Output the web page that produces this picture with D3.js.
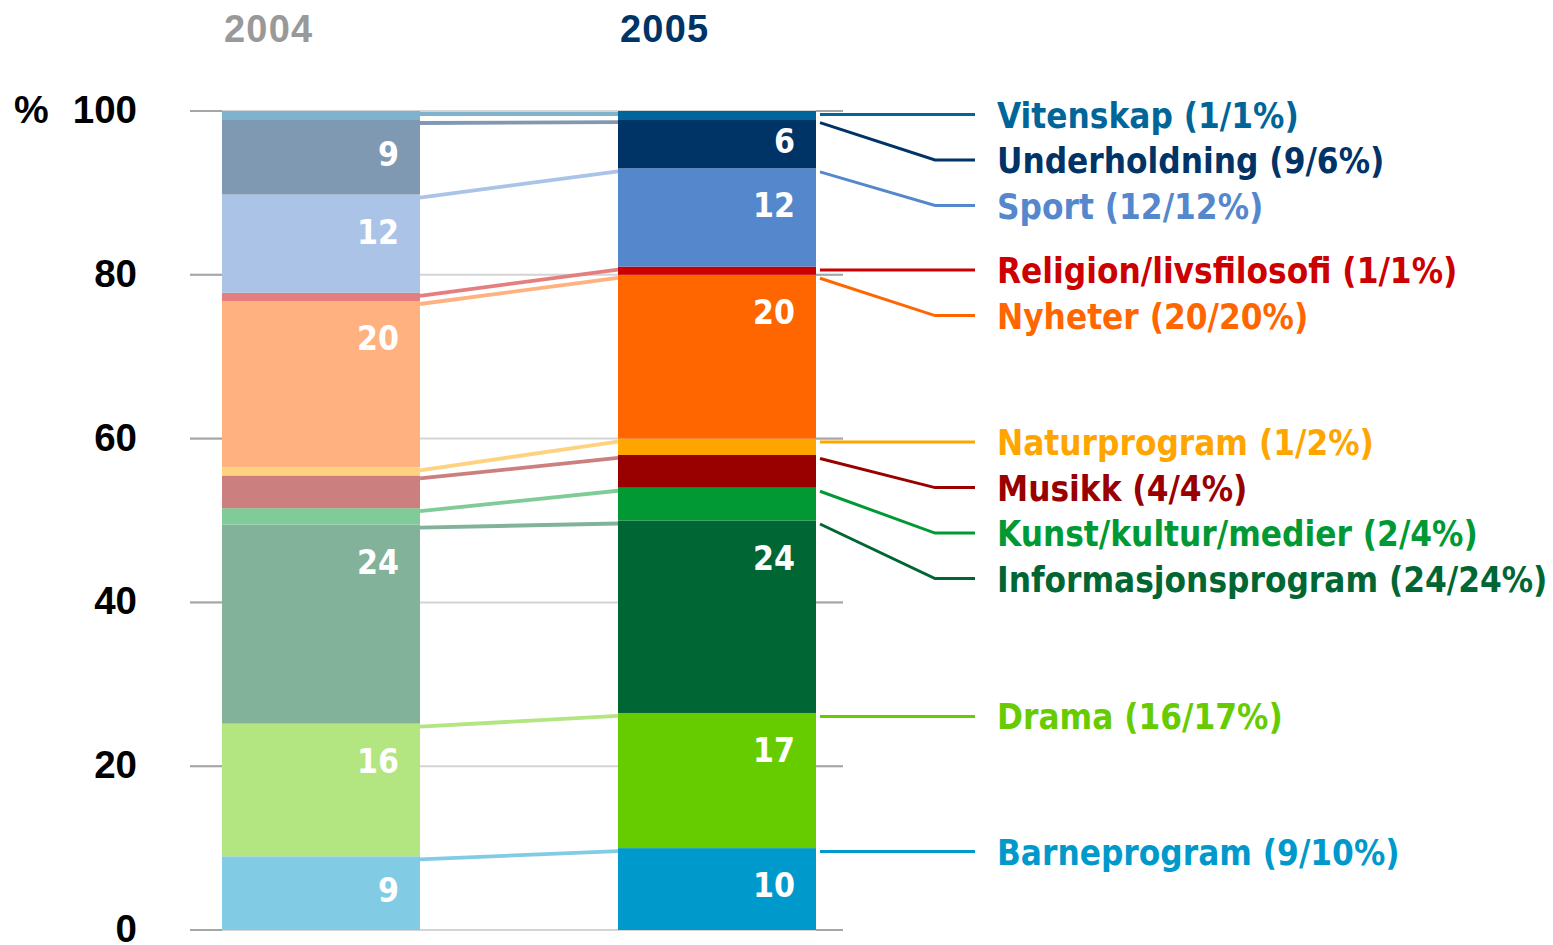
<!DOCTYPE html>
<html>
<head>
<meta charset="utf-8">
<script src="https://cdn.jsdelivr.net/npm/d3@7"></script>
<style>
  html, body { margin: 0; padding: 0; background: #ffffff; }
  svg { display: block; }
  .cond { font-family: "DejaVu Sans Condensed", "DejaVu Sans", sans-serif; font-stretch: condensed; font-weight: bold; }
  .plain { font-family: "Liberation Sans", Arial, sans-serif; font-weight: bold; }
</style>
</head>
<body>
<svg id="chart" width="1553" height="945"></svg>
<script>
// Programme categories, stacked bottom-up
const categories = [
  "Barneprogram", "Drama", "Informasjonsprogram", "Kunst/kultur/medier",
  "Musikk", "Naturprogram", "Nyheter", "Religion/livsfilosofi",
  "Sport", "Underholdning", "Vitenskap"
];
const years = ["2004", "2005"];

// Share of broadcast time (%)
const share2004 = [9, 16.2, 24.3, 2, 4, 1, 20.3, 1, 12, 9.1, 1.1];
const share2005 = [10, 16.5, 23.5, 4, 4, 2, 20, 1, 12, 6, 1];

// Muted palette for the earlier year, full palette for the latest year
const colors2004 = ["#82cbe5", "#b3e580", "#82b29a", "#80cc99", "#cc7f7f", "#ffd280",
                    "#ffb280", "#e57f7f", "#aac3e6", "#8099b2", "#7fb2cc"];
const colors2005 = ["#0099cc", "#66cc00", "#006633", "#009933", "#990000", "#ffa500",
                    "#ff6600", "#cc0000", "#5587cc", "#003366", "#006699"];

const yTicks = [0, 20, 40, 60, 80, 100];
const yearColors = ["#999999", "#003366"];

const svg = d3.select("#chart");
const fmt = d3.format(".0f");

const y = d3.scaleLinear().domain([0, 100]).range([930, 111]);
const x = d3.scaleBand().domain(years).range([222, 816]).paddingInner(0.5).paddingOuter(0);
const bw = x.bandwidth();

// stacked segments per year
const table = years.map((yr, j) => {
  const o = { year: yr };
  const vals = j === 0 ? share2004 : share2005;
  categories.forEach((c, i) => { o[i] = vals[i]; });
  return o;
});
const stack = d3.stack().keys(categories.map((c, i) => i));
const series = stack(table); // series[i][j] -> [y0, y1] for category i, year j

// grid lines: light between bars, darker stubs on the outside
const gridLeft = 190, gridRight = 843;
const grid = svg.append("g");
grid.selectAll("line.g").data(yTicks).join("line")
  .attr("x1", gridLeft).attr("x2", gridRight)
  .attr("y1", d => y(d)).attr("y2", d => y(d))
  .attr("stroke", "#d4d4d4").attr("stroke-width", 2);
grid.selectAll("line.sl").data(yTicks).join("line")
  .attr("x1", gridLeft).attr("x2", x("2004"))
  .attr("y1", d => y(d)).attr("y2", d => y(d))
  .attr("stroke", "#a6a6a6").attr("stroke-width", 2);
grid.selectAll("line.sr").data(yTicks).join("line")
  .attr("x1", x("2005") + bw).attr("x2", gridRight)
  .attr("y1", d => y(d)).attr("y2", d => y(d))
  .attr("stroke", "#a6a6a6").attr("stroke-width", 2);

// y axis labels
const axis = svg.append("g")
  .attr("transform", `translate(${gridLeft},0)`)
  .call(d3.axisLeft(y).tickValues(yTicks).tickSize(0).tickPadding(53));
axis.select(".domain").remove();
axis.selectAll("text")
  .attr("class", "plain")
  .attr("font-size", 38.5)
  .attr("fill", "#000")
  .attr("dy", "0.3em");

svg.append("text").attr("class", "plain")
  .attr("x", 14).attr("y", y(100) + 12)
  .attr("font-size", 39).attr("fill", "#000")
  .text("%");

// year headings
svg.selectAll("text.year").data(years).join("text")
  .attr("class", "plain year")
  .attr("x", d => x(d) + 2).attr("y", 42)
  .attr("font-size", 38)
  .attr("letter-spacing", 1.2)
  .attr("fill", (d, i) => yearColors[i])
  .text(d => d);

// bars
const palettes = [colors2004, colors2005];
series.forEach((s, i) => {
  svg.selectAll(null).data(s).join("rect")
    .attr("x", (d, j) => x(years[j]))
    .attr("width", bw)
    .attr("y", d => y(d[1]))
    .attr("height", d => y(d[0]) - y(d[1]))
    .attr("fill", (d, j) => palettes[j][i]);
});

// connectors between the two bars, at the top of each segment
const cx0 = x("2004") + bw, cx1 = x("2005");
svg.append("g").selectAll("line").data(series).join("line")
  .attr("x1", cx0).attr("x2", cx1)
  .attr("y1", s => y(s[0][1]) + 3)
  .attr("y2", s => y(s[1][1]) + 3)
  .attr("stroke", (s, i) => colors2004[i])
  .attr("stroke-width", 3.8);

// value labels inside the larger segments
series.forEach((s, i) => {
  s.forEach((d, j) => {
    const v = j === 0 ? share2004[i] : share2005[i];
    if (v < 5) return;
    const top = y(d[1]), h = y(d[0]) - y(d[1]);
    const cy = top + Math.min(37, h / 2 - 3);
    svg.append("text").attr("class", "cond")
      .attr("x", x(years[j]) + bw - 21)
      .attr("y", cy + 12)
      .attr("text-anchor", "end")
      .attr("font-size", 33.5)
      .attr("fill", "#ffffff")
      .text(fmt(v));
  });
});

// legend on the right: labels pushed down so they do not overlap
const order = d3.range(categories.length).reverse();
const gap = 45.5;
let prev = -Infinity;
const legend = order.map(i => {
  const anchor = y(series[i][1][1]) + 3.5;
  const ly = Math.max(anchor, prev + gap);
  prev = ly;
  return { i, anchor, ly };
});

const lx0 = x("2005") + bw + 4, lxElbow = 935, lxEnd = 975, tx = 997;
const path = d3.line();
svg.append("g").selectAll("path").data(legend).join("path")
  .attr("d", d => Math.abs(d.ly - d.anchor) < 4
    ? path([[lx0, d.ly], [lxEnd, d.ly]])
    : path([[lx0, d.anchor], [lxElbow, d.ly], [lxEnd, d.ly]]))
  .attr("fill", "none")
  .attr("stroke", d => colors2005[d.i])
  .attr("stroke-width", 3);

svg.append("g").selectAll("text").data(legend).join("text")
  .attr("class", "cond")
  .attr("x", tx).attr("y", d => d.ly + 13)
  .attr("font-size", 34.8)
  .attr("fill", d => colors2005[d.i])
  .text(d => `${categories[d.i]} (${fmt(share2004[d.i])}/${fmt(share2005[d.i])}%)`);
</script>
</body>
</html>
